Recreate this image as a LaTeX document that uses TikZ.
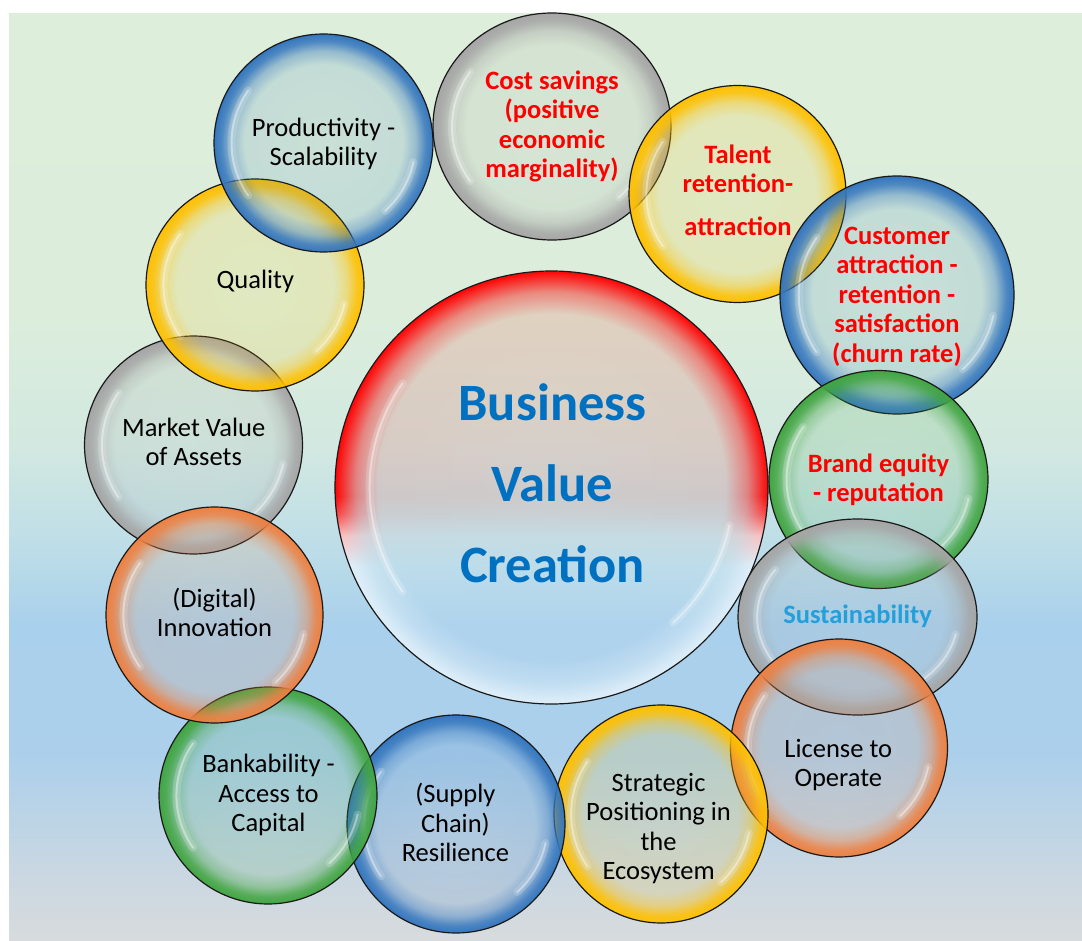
\documentclass[tikz,border=0pt]{standalone}
\usepackage{fontspec}
\setmainfont{Carlito}
\usetikzlibrary{fadings}

\definecolor{bg0}{RGB}{216,219,221}
\definecolor{bg1}{RGB}{200,215,226}
\definecolor{bg2}{RGB}{172,208,235}
\definecolor{bg3}{RGB}{169,208,236}
\definecolor{bg4}{RGB}{188,221,232}
\definecolor{bg5}{RGB}{210,232,225}
\definecolor{bg6}{RGB}{220,238,219}
\definecolor{bg7}{RGB}{221,238,218}
\definecolor{bluec}{RGB}{52,118,190}
\definecolor{yellowc}{RGB}{255,192,0}
\definecolor{grayc}{RGB}{165,165,165}
\definecolor{greenc}{RGB}{65,165,65}
\definecolor{orangec}{RGB}{238,128,65}
\definecolor{bvcblue}{RGB}{0,112,192}
\definecolor{susblue}{RGB}{35,160,220}
\definecolor{clow}{RGB}{225,240,250}

% shadings: the path bounding box is the middle 50bp (25bp..75bp)
\pgfdeclareverticalshading{bgshade}{100bp}{color(0bp)=(bg0); color(25bp)=(bg0); color(29bp)=(bg1); color(35bp)=(bg2); color(42bp)=(bg3); color(46bp)=(bg4); color(51.5bp)=(bg5); color(59bp)=(bg6); color(75bp)=(bg7); color(100bp)=(bg7)}
\pgfdeclareverticalshading{bvcshade}{100bp}{color(0bp)=(clow); color(41bp)=(clow); color(44.5bp)=(red!25!white); color(47bp)=(red!75!white); color(49bp)=(red); color(100bp)=(red)}
\pgfdeclareradialshading{bubshade}{\pgfpointorigin}{color(0bp)=(transparent!89); color(18bp)=(transparent!85); color(21bp)=(transparent!58); color(23.25bp)=(transparent!15); color(25bp)=(transparent!0); color(50bp)=(transparent!0)}
\pgfdeclarefading{bubfade}{\pgfuseshading{bubshade}}
\pgfdeclareradialshading{bubshadeB}{\pgfpointorigin}{color(0bp)=(transparent!90); color(20bp)=(transparent!88); color(22.5bp)=(transparent!58); color(24.2bp)=(transparent!18); color(25bp)=(transparent!0); color(50bp)=(transparent!0)}
\pgfdeclarefading{bubfadeB}{\pgfuseshading{bubshadeB}}

\tikzset{
  rim/.style={draw=black!90, line width=1.2pt},
  hlw/.style={draw=white, line width=8pt, opacity=0.18, line cap=round},
  hln/.style={draw=white, line width=2pt, opacity=0.4, line cap=round},
  lbl/.style={font=\fontsize{26.5}{29.5}\selectfont, align=center, inner sep=0pt, text=black},
  lblred/.style={font=\fontsize{26.5}{29.5}\selectfont\bfseries, align=center, inner sep=0pt, text=red},
  lblsus/.style={font=\fontsize{26.5}{29.5}\selectfont\bfseries, align=center, inner sep=0pt, text=susblue},
  lblbig/.style={font=\fontsize{52.5}{81}\selectfont\bfseries, align=center, inner sep=0pt, text=bvcblue},
}

\newcommand\hilite[4]{%
  \pgfmathsetmacro\hrx{0.84*#3}\pgfmathsetmacro\hry{0.84*#4}%
  \pgfmathsetmacro\sxa{#1+\hrx*cos(145)}\pgfmathsetmacro\sya{#2+\hry*sin(145)}%
  \pgfmathsetmacro\sxb{#1+\hrx*cos(12)}\pgfmathsetmacro\syb{#2+\hry*sin(12)}%
  \draw[hlw] (\sxa,\sya) arc[start angle=145,end angle=215,x radius=\hrx,y radius=\hry];
  \draw[hln] (\sxa,\sya) arc[start angle=145,end angle=215,x radius=\hrx,y radius=\hry];
  \draw[hlw] (\sxb,\syb) arc[start angle=12,end angle=48,x radius=\hrx,y radius=\hry];
  \draw[hln] (\sxb,\syb) arc[start angle=12,end angle=48,x radius=\hrx,y radius=\hry];
}
\newcommand\bubble[5]{%
  \fill[#5, path fading=bubfade] (#1,#2) ellipse[x radius=#3, y radius=#4];
  \hilite{#1}{#2}{#3}{#4}%
  \draw[rim] (#1,#2) ellipse[x radius=#3, y radius=#4];
}

\begin{document}
\begin{tikzpicture}[x=1pt,y=-1pt]
\useasboundingbox (0,0) rectangle (1082,941);
\fill[white] (0,0) rectangle (1082,941);
\shade[shading=bgshade] (9,14) rectangle (1082,941);

% central bubble
\shade[shading=bvcshade, path fading=bubfadeB] (551.5,487.5) circle[radius=216.5];
\hilite{551.5}{487.5}{216.5}{216.5}
\draw[rim] (551.5,487.5) circle[radius=216.5];

% surrounding bubbles
\bubble{193.5}{445}{109}{109}{grayc}
\bubble{255}{285}{109}{106}{yellowc}
\bubble{323.5}{143}{109.5}{109}{bluec}
\bubble{552}{126.5}{119}{113.5}{grayc}
\bubble{737.5}{194}{108.5}{108.5}{yellowc}
\bubble{897}{295}{117}{119}{bluec}
\bubble{878.5}{479.5}{109.5}{109}{greenc}
\bubble{857.5}{617}{119.5}{98}{grayc}
\bubble{839}{748}{108.5}{109}{orangec}
\bubble{661}{814}{107}{109}{yellowc}
\bubble{456}{824}{109}{109}{bluec}
\bubble{268}{795.5}{109}{108.5}{greenc}
\bubble{214.5}{615}{108.5}{108}{orangec}

% labels
\node[lblbig] (bvc) at (552.5,485.5) {\strut Business\\Value\\Creation\strut};
\node[lbl] (prod) at (323.5,145.3) {\strut Productivity -\\Scalability\strut};
\node[lblred] (cost) at (552,127.5) {\strut Cost savings\\(positive\\economic\\marginality)\strut};
\node[lblred] (talent) at (738,193.3) {\strut Talent\\retention-\\[12.8pt]attraction\strut};
\node[lblred] (cust) at (897,297.4) {\strut Customer\\attraction -\\retention -\\satisfaction\\(churn rate)\strut};
\node[lblred] (brand) at (878.5,481.3) {\strut Brand equity\\- reputation\strut};
\node[lblsus] (sust) at (857.5,617.4) {\strut Sustainability\strut};
\node[lbl] (lic) at (838.3,766.1) {\strut License to\\Operate\strut};
\node[lbl] (strat) at (658.6,829.5) {\strut Strategic\\Positioning in\\the\\Ecosystem\strut};
\node[lbl] (supply) at (455.4,826.3) {\strut (Supply\\Chain)\\Resilience\strut};
\node[lbl] (bank) at (268.5,796.3) {\strut Bankability -\\Access to\\Capital\strut};
\node[lbl] (digi) at (214.5,616.1) {\strut (Digital)\\Innovation\strut};
\node[lbl] (market) at (193.7,444.9) {\strut Market Value\\of Assets\strut};
\node[lbl] (qual) at (255.3,283.1) {\strut Quality\strut};
\end{tikzpicture}
\end{document}
